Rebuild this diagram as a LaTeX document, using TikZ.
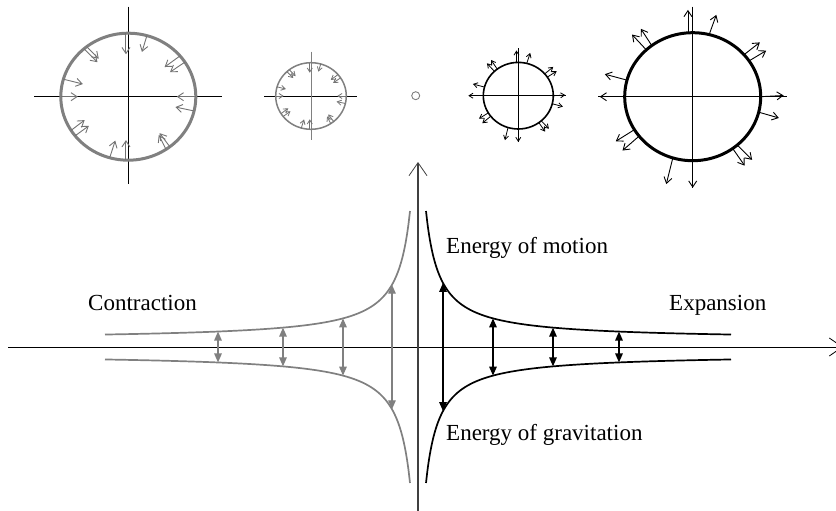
\documentclass[tikz,border=0pt]{standalone}
\usepackage{fontspec}
\setmainfont{Liberation Serif}
\usetikzlibrary{arrows.meta}
\definecolor{cgray}{HTML}{808080}
\definecolor{caxis}{HTML}{404040}
\tikzset{
  curveblack/.style={line width=1.7pt, black},
  curvegray/.style={line width=1.7pt, cgray},
  dblblack/.style={line width=1.4pt, black, {Triangle[length=9pt,width=7.5pt]}-{Triangle[length=9pt,width=7.5pt]}},
  dblgray/.style={line width=1.4pt, cgray, {Triangle[length=9pt,width=7.5pt]}-{Triangle[length=9pt,width=7.5pt]}},
  mainaxis/.style={line width=0.9pt, -{Straight Barb[length=13pt,width=18pt,line width=0.8pt]}},
  caxisline/.style={line width=0.8pt, black},
  bigarr/.style={line width=0.9pt, -{Straight Barb[length=6pt,width=8pt]}},
  smallarr/.style={line width=0.8pt, -{Straight Barb[length=4pt,width=5pt]}},
  label/.style={font=\fontsize{23}{26}\selectfont, inner sep=0pt, anchor=base west},
}
\begin{document}
\begin{tikzpicture}[x=1pt,y=-1pt]
\useasboundingbox (0,0) rectangle (836,511);
\clip (0,0) rectangle (836,511);
\fill[white] (0,0) rectangle (836,511);

% ---------- circle 1: large gray, inward arrows
\draw[caxisline] (34,96.7) -- (221.7,96.7);
\draw[caxisline] (128.3,6.7) -- (128.3,184.3);
\begin{scope}[shift={(128.3,96.7)}]
  \draw[line width=3pt, cgray] (0,0) ellipse [x radius=67.5pt, y radius=63.5pt];
  \foreach \a/\d/\l in {0/180/19, -13/168/19, 33/214/18, 40/216/19, 74/253/17, 92/270/21,
                        128/-45/17, 131/-45/19, 164/-14/20, 180/0/17, 212/37/17, 218/36/17,
                        254/72/18, 268/90/20, -56/117/16, -52/127/17}
    \draw[bigarr, cgray!90!black] (\a:67.5pt and 63.5pt) -- ++(\d:\l pt);
\end{scope}

% ---------- circle 2: small gray, inward arrows
\draw[caxisline] (264,96) -- (357.3,96);
\draw[line width=0.8pt, cgray] (311,51.7) -- (311,140);
\begin{scope}[shift={(311,96)}]
  \draw[line width=1.5pt, cgray] (0,0) ellipse [x radius=35.3pt, y radius=33.3pt];
  \foreach \a/\d/\l in {0/180/9, -13/168/9, 33/214/9, 40/216/9, 74/253/8, 92/270/10,
                        128/-45/9, 133/-45/9, 164/-14/9, 180/0/8, 212/37/9, 218/36/9,
                        254/72/9, 268/90/10, -56/117/8, -50/127/9}
    \draw[smallarr, cgray!90!black] (\a:35.3pt and 33.3pt) -- ++(\d:\l pt);
\end{scope}

% ---------- tiny circle
\node[draw=cgray, line width=0.9pt, circle, minimum size=8pt, inner sep=0pt] (dot) at (415.7,95.7) {};

% ---------- circle 3: small black, outward arrows
\draw[caxisline] (470,95.7) -- (566,95.7);
\draw[caxisline] (518.3,48.3) -- (518.3,141.7);
\begin{scope}[shift={(518.3,95.7)}]
  \draw[line width=1.6pt, black] (0,0) ellipse [x radius=35pt, y radius=33.3pt];
  \foreach \a/\d/\l in {0/3/12, -14/-15/11, 34/32/11, 41/39/11, 76/72/11, 93/90/12,
                        127/124/11, 133/133/11, 165/165/12, 180/180/15, 211/212/11, 218/220/11,
                        253/256/13, 270/270/13, -54/-55/11, -49/-46/11}
    \draw[smallarr] (\a:35pt and 33.3pt) -- ++(\d:\l pt);
\end{scope}

% ---------- circle 4: large black, outward arrows
\draw[caxisline] (598,96.7) -- (786.7,96.7);
\draw[caxisline] (692.7,6.7) -- (692.7,188);
\begin{scope}[shift={(692.7,96.7)}]
  \draw[line width=3pt, black] (0,0) ellipse [x radius=68pt, y radius=64pt];
  \foreach \a/\d/\l in {0/3/23, -14/-16/21, 34/31/20, 41/38/20, 76/70/21, 94/90/23,
                        127/123/20, 133/133/21, 165/165/23, 180/180/25, 211/212/22, 218/221/22,
                        253/256/27, 270/270/27, -54/-55/21, -49/-45/21}
    \draw[bigarr] (\a:68pt and 64pt) -- ++(\d:\l pt);
\end{scope}

% ---------- main axes
\coordinate (xs) at (8,347);
\coordinate (xe) at (843,347);
\coordinate (ys) at (418,511);
\coordinate (ye) at (418,162);
\draw[mainaxis] (xs) -- (xe);
\draw[mainaxis, caxis, line width=1.1pt] (ys) -- (ye);

% ---------- energy curves
\draw[curveblack] plot[domain=426:731, samples=200, smooth] (\x,{340-1741/(\x-412.5)});
\draw[curveblack] plot[domain=426:731, samples=200, smooth] (\x,{354+1741/(\x-412.5)});
\draw[curvegray] plot[domain=105:410, samples=200, smooth] (\x,{340-1741/(423.5-\x)});
\draw[curvegray] plot[domain=105:410, samples=200, smooth] (\x,{354+1741/(423.5-\x)});

\foreach \i/\x in {1/443, 2/493, 3/553, 4/619} {
  \coordinate (bt\i) at (\x,{340-1741/(\x-412.5)});
  \coordinate (bb\i) at (\x,{354+1741/(\x-412.5)});
  \draw[dblblack] (bt\i) -- (bb\i);
}
\foreach \i/\x in {1/392, 2/343, 3/283, 4/218} {
  \coordinate (gt\i) at (\x,{340-1741/(423.5-\x)});
  \coordinate (gb\i) at (\x,{354+1741/(423.5-\x)});
  \draw[dblgray] (gt\i) -- (gb\i);
}

% ---------- labels
\node[label] (motion) at (446,253) {Energy of motion};
\node[label] (grav) at (446,440.7) {Energy of gravitation};
\node[label] (contr) at (88,310) {Contraction};
\node[label] (expan) at (669,310.7) {Expansion};
\end{tikzpicture}
\end{document}
